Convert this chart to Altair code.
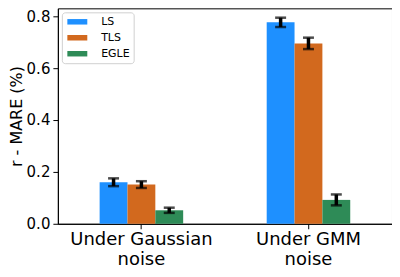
import altair as alt
import pandas as pd

conditions = ["Under Gaussian\nnoise", "Under GMM\nnoise"]
methods = ["LS", "TLS", "EGLE"]
colors = ["#1E90FF", "#D2691E", "#2E8B57"]
gaussian_values = [0.160, 0.151, 0.052]
gaussian_errors = [0.015, 0.013, 0.010]
gmm_values = [0.776, 0.695, 0.092]
gmm_errors = [0.018, 0.022, 0.021]
y_ticks = [0.0, 0.2, 0.4, 0.6, 0.8]

rows = []
for cond, vals, errs in [(conditions[0], gaussian_values, gaussian_errors),
                         (conditions[1], gmm_values, gmm_errors)]:
    for m, v, e in zip(methods, vals, errs):
        rows.append({"condition": cond, "method": m, "value": v, "lo": v - e, "hi": v + e})
df = pd.DataFrame(rows)

FONT = "DejaVu Sans"

x = alt.X("condition:N", sort=conditions,
          scale=alt.Scale(paddingInner=0.5, paddingOuter=0.25),
          axis=alt.Axis(title=None, labelAngle=0,
                        labelExpr="split(datum.label, '\\n')",
                        labelFontSize=18, labelLineHeight=20,
                        labelBaseline="top", labelPadding=2,
                        tickSize=5, labelColor="black"))
xo = alt.XOffset("method:N", sort=methods,
                 scale=alt.Scale(paddingInner=0, paddingOuter=0))

bars = alt.Chart(df).mark_bar().encode(
    x=x, xOffset=xo,
    y=alt.Y("value:Q", scale=alt.Scale(domain=[0, 0.83], nice=False),
            axis=alt.Axis(title="r - MARE (%)", values=y_ticks, format=".1f",
                          grid=False, labelFontSize=15, titleFontSize=16,
                          titleFontWeight="normal", tickSize=5, labelPadding=3,
                          titlePadding=2, labelColor="black", titleColor="black")),
    color=alt.Color("method:N", sort=methods,
                    scale=alt.Scale(domain=methods, range=colors),
                    legend=alt.Legend(title=None)),
)

err = alt.Chart(df).mark_rule(color="black", strokeWidth=3.5).encode(
    x=x, xOffset=xo, y="lo:Q", y2="hi:Q")

caps_lo = alt.Chart(df).mark_tick(color="black", size=11, thickness=2.5).encode(
    x=x, xOffset=xo, y="lo:Q")
caps_hi = alt.Chart(df).mark_tick(color="black", size=11, thickness=2.5).encode(
    x=x, xOffset=xo, y="hi:Q")

chart = alt.layer(bars, err, caps_lo, caps_hi).properties(
    width=335, height=216,
    autosize=alt.AutoSizeParams(type="none"),
    padding={"left": 50, "top": 0, "right": 0, "bottom": 45},
).configure(font=FONT).configure_view(
    stroke="black", strokeWidth=1
).configure_axis(
    domainColor="black", tickColor="black", labelFont=FONT, titleFont=FONT
).configure_legend(
    orient="none", legendX=4, legendY=4, padding=4,
    fillColor="white", strokeColor="#d0d0d0", cornerRadius=3,
    labelFontSize=11, labelFont=FONT, labelColor="black",
    symbolType="M-2,-0.55L2,-0.55L2,0.55L-2,0.55Z", symbolSize=100,
    symbolStrokeWidth=0, symbolOpacity=1, rowPadding=4,
    symbolOffset=6, labelOffset=18.4,
)

chart.save("out.html", embed_options={"renderer": "svg", "actions": False})
